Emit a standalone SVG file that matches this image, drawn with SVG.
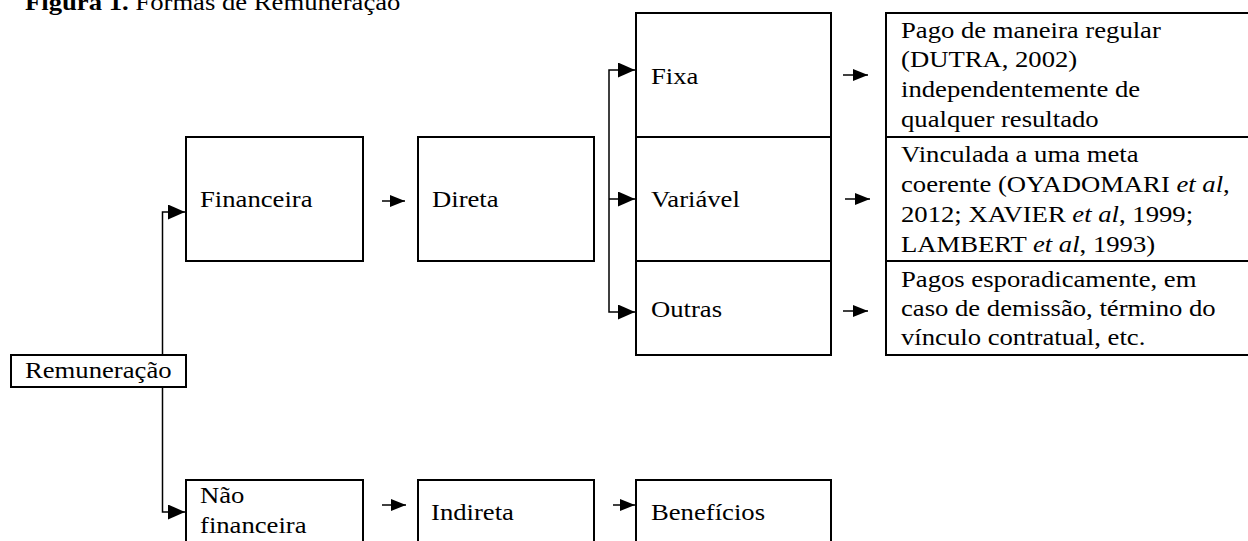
<svg xmlns="http://www.w3.org/2000/svg" width="1248" height="541" viewBox="0 0 1248 541">
<style>
.box{fill:#fff;stroke:#000;stroke-width:2}
.t{font-family:"Liberation Serif","Times New Roman",serif;font-size:23px;fill:#000}
.b{font-weight:bold}
.i{font-style:italic}
.c{fill:none;stroke:#000;stroke-width:1.5}
</style>
<defs>
<marker id="ah" markerUnits="userSpaceOnUse" markerWidth="15" markerHeight="12" refX="15" refY="6" orient="auto"><path d="M0,0 L15,6 L0,12 z" fill="#000"/></marker>
<marker id="ahb" markerUnits="userSpaceOnUse" markerWidth="17" markerHeight="15" refX="17" refY="7.5" orient="auto"><path d="M0,0 L17,7.5 L0,15 z" fill="#000"/></marker>
</defs>
<rect width="1248" height="541" fill="#fff"/>
<text class="t" transform="translate(25,10) scale(1.16,1)"><tspan class="b">Figura 1.</tspan> Formas de Remuneração</text>

<g id="connectors">
<path class="c" d="M162.5,355 V212 H185" marker-end="url(#ahb)"/>
<path class="c" d="M162.5,387 V512 H185" marker-end="url(#ahb)"/>
<path class="c" d="M382,201 H405" marker-end="url(#ah)"/>
<path class="c" d="M609,199 V70 H635" marker-end="url(#ahb)"/>
<path class="c" d="M609,199 H635" marker-end="url(#ahb)"/>
<path class="c" d="M609,199 V312 H635" marker-end="url(#ahb)"/>
<path class="c" d="M843,75 H868" marker-end="url(#ah)"/>
<path class="c" d="M845,199 H870" marker-end="url(#ah)"/>
<path class="c" d="M843,311 H868" marker-end="url(#ah)"/>
<path class="c" d="M382,505 H406" marker-end="url(#ah)"/>
<path class="c" d="M613,505 H635" marker-end="url(#ah)"/>
</g>

<g id="remuneracao">
<rect class="box" x="11" y="355" width="175" height="32"/>
<text class="t" transform="translate(25,378) scale(1.16,1)">Remuneração</text>
</g>
<g id="financeira">
<rect class="box" x="186" y="137" width="177" height="124"/>
<text class="t" transform="translate(200,207) scale(1.16,1)">Financeira</text>
</g>
<g id="direta">
<rect class="box" x="418" y="137" width="176" height="124"/>
<text class="t" transform="translate(432,207) scale(1.16,1)">Direta</text>
</g>
<g id="fixa">
<rect class="box" x="636" y="13" width="195" height="124"/>
<text class="t" transform="translate(651,84) scale(1.16,1)">Fixa</text>
</g>
<g id="variavel">
<rect class="box" x="636" y="137" width="195" height="124"/>
<text class="t" transform="translate(651,207) scale(1.16,1)">Variável</text>
</g>
<g id="outras">
<rect class="box" x="636" y="261" width="195" height="94"/>
<text class="t" transform="translate(651,317) scale(1.16,1)">Outras</text>
</g>
<g id="desc-fixa">
<rect class="box" x="886" y="13" width="370" height="124"/>
<text class="t" transform="translate(901,38) scale(1.16,1)"><tspan x="0" y="0">Pago de maneira regular</tspan><tspan x="0" y="29.5">(DUTRA, 2002)</tspan><tspan x="0" y="59">independentemente de</tspan><tspan x="0" y="89.5">qualquer resultado</tspan></text>
</g>
<g id="desc-variavel">
<rect class="box" x="886" y="137" width="370" height="124"/>
<text class="t" transform="translate(901,162) scale(1.16,1)"><tspan x="0" y="0">Vinculada a uma meta</tspan><tspan x="0" y="30">coerente (OYADOMARI <tspan class="i">et al</tspan>,</tspan><tspan x="0" y="60">2012; XAVIER <tspan class="i">et al</tspan>, 1999;</tspan><tspan x="0" y="90">LAMBERT <tspan class="i">et al</tspan>, 1993)</tspan></text>
</g>
<g id="desc-outras">
<rect class="box" x="886" y="261" width="370" height="94"/>
<text class="t" transform="translate(901,286.5) scale(1.16,1)"><tspan x="0" y="0">Pagos esporadicamente, em</tspan><tspan x="0" y="29.5">caso de demissão, término do</tspan><tspan x="0" y="58.5">vínculo contratual, etc.</tspan></text>
</g>
<g id="nao-financeira">
<rect class="box" x="186" y="480" width="177" height="80"/>
<text class="t" transform="translate(200,503) scale(1.16,1)"><tspan x="0" y="0">Não</tspan><tspan x="0" y="30">financeira</tspan></text>
</g>
<g id="indireta">
<rect class="box" x="418" y="480" width="176" height="80"/>
<text class="t" transform="translate(431,520) scale(1.16,1)">Indireta</text>
</g>
<g id="beneficios">
<rect class="box" x="636" y="480" width="195" height="80"/>
<text class="t" transform="translate(651,520) scale(1.16,1)">Benefícios</text>
</g>
</svg>
